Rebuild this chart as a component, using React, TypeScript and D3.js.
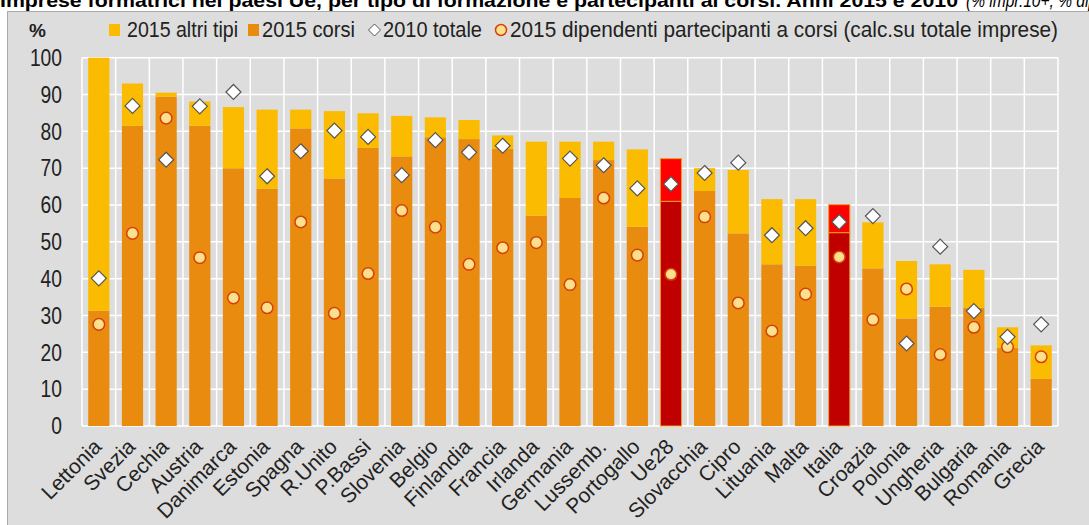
import React from "react";
import * as d3 from "d3";

const countries = ["Lettonia","Svezia","Cechia","Austria","Danimarca","Estonia","Spagna","R.Unito","P.Bassi","Slovenia","Belgio","Finlandia","Francia","Irlanda","Germania","Lussemb.","Portogallo","Ue28","Slovacchia","Cipro","Lituania","Malta","Italia","Croazia","Polonia","Ungheria","Bulgaria","Romania","Grecia"];
const corsi2015 = [31.3,81.5,89.4,81.5,70.0,64.4,80.8,67.2,75.5,73.2,78.4,77.9,75.2,57.1,61.9,72.2,54.1,61.0,63.8,52.3,43.9,43.5,52.5,42.8,29.2,32.4,32.1,21.2,12.8];
const altri2015 = [68.7,11.5,1.1,6.6,16.6,21.5,5.1,18.3,9.4,11.0,5.4,5.2,3.7,20.1,15.3,5.0,21.0,11.6,6.2,17.2,17.7,18.1,7.6,12.5,15.6,11.5,10.3,5.6,9.1];
const totale2010: (number | null)[] = [40.1,86.9,72.3,86.8,90.7,67.8,74.6,80.2,78.5,68.1,77.6,74.3,76.1,null,72.6,70.8,64.5,65.7,68.7,71.5,51.8,53.7,55.4,57.0,22.4,48.7,31.2,24.2,27.6];
const dipendenti2015 = [27.6,52.3,83.6,45.7,34.8,32.1,55.4,30.6,41.4,58.5,54.0,43.9,48.4,49.8,38.4,61.9,46.4,41.2,56.8,33.4,25.8,35.8,45.9,28.9,37.2,19.4,26.8,21.5,18.8];
const yTicks = [0,10,20,30,40,50,60,70,80,90,100];
const highlighted = ["Ue28","Italia"];

const W = 1089, H = 525;
const FONT = "'Liberation Sans', Arial, sans-serif";

export default function App() {
  const x = d3.scaleBand<string>().domain(countries).range([82, 1058]).padding(0);
  const y = d3.scaleLinear().domain([0, 100]).range([426, 57.7]);
  const bw = x.bandwidth();
  const barW = bw * 0.63;
  const stack = d3.stack<number>().keys(["corsi", "altri"]).value((i, k) => (k === "corsi" ? corsi2015[i] : altri2015[i]));
  const series = stack(d3.range(countries.length));

  const colors: Record<string, [string, string]> = {
    corsi: ["#e98b0f", "#c00000"],
    altri: ["#fbbb00", "#ff0000"],
  };

  const diamond = (cx: number, cy: number, r: number) => `M${cx},${cy - r}L${cx + r},${cy}L${cx},${cy + r}L${cx - r},${cy}Z`;

  return (
    <svg width={W} height={H} style={{ position: "absolute", left: 0, top: 0 }} fontFamily={FONT}>
      <rect x={0} y={0} width={W} height={H} fill="#ffffff" />
      <text x={0} y={7} fontSize={18} fontWeight="bold" fill="#000" textLength={958} lengthAdjust="spacingAndGlyphs">Imprese formatrici nei paesi Ue, per tipo di formazione e partecipanti ai corsi. Anni 2015 e 2010</text>
      <text x={966} y={7} fontSize={18} fontStyle="italic" fill="#000" textLength={200} lengthAdjust="spacingAndGlyphs">(% impr.10+, % dip. imprese)</text>
      <rect x={7.5} y={11.5} width={W} height={H} fill="#dddddd" stroke="#aaaaaa" strokeWidth={1} />

      {/* gridlines */}
      {yTicks.map((t) => (
        <line key={"h" + t} x1={82} x2={1058} y1={y(t)} y2={y(t)} stroke="#ffffff" strokeWidth={1.5} />
      ))}
      {d3.range(countries.length + 1).map((i) => {
        const xx = 82 + i * bw;
        return <line key={"v" + i} x1={xx} x2={xx} y1={y(100)} y2={y(0)} stroke="#ffffff" strokeWidth={1.5} />;
      })}

      {/* bars */}
      {series.map((s) =>
        s.map((d, i) => {
          const c = countries[i];
          const hl = highlighted.includes(c);
          const col = colors[s.key][hl ? 1 : 0];
          return (
            <rect key={s.key + c} x={(x(c) as number) + (bw - barW) / 2} y={y(d[1])} width={barW} height={y(d[0]) - y(d[1])}
              fill={col} stroke={hl ? "#f0a020" : "none"} strokeWidth={hl ? 1 : 0} />
          );
        })
      )}

      {/* circles */}
      {dipendenti2015.map((v, i) => (
        <circle key={"c" + i} cx={(x(countries[i]) as number) + bw / 2} cy={y(v)} r={5.8} fill="#fde08c" stroke="#d6400c" strokeWidth={1.5} />
      ))}
      {/* diamonds */}
      {totale2010.map((v, i) => v == null ? null : (
        <path key={"d" + i} d={diamond((x(countries[i]) as number) + bw / 2, y(v), 7.5)} fill="#ffffff" stroke="#555555" strokeWidth={1.2} />
      ))}

      {/* y axis labels */}
      {yTicks.map((t) => (
        <text key={"yt" + t} x={62} y={y(t)} dy="0.36em" textAnchor="end" fontSize={23} fill="#222"
          textLength={String(t).length * 10.7} lengthAdjust="spacingAndGlyphs">{t}</text>
      ))}
      <text x={29} y={37} fontSize={19} fontWeight="bold" fill="#222">%</text>

      {/* x labels */}
      {countries.map((c) => {
        const cx = (x(c) as number) + bw / 2 + 4;
        const cy = 448;
        return (
          <text key={"xl" + c} x={cx} y={cy} textAnchor="end" fontSize={21} fill="#222" transform={`rotate(-45 ${cx} ${cy})`}>{c}</text>
        );
      })}

      {/* legend */}
      <rect x={109} y={24} width={11} height={12} fill="#fbbb00" />
      <text x={127} y={37} fontSize={22} fill="#222" textLength={111} lengthAdjust="spacingAndGlyphs">2015 altri tipi</text>
      <rect x={248} y={24} width={11} height={12} fill="#e98b0f" />
      <text x={262} y={37} fontSize={22} fill="#222" textLength={93} lengthAdjust="spacingAndGlyphs">2015 corsi</text>
      <path d={diamond(374.5, 30, 6)} fill="#ffffff" stroke="#555555" strokeWidth={1} />
      <text x={383} y={37} fontSize={22} fill="#222" textLength={99} lengthAdjust="spacingAndGlyphs">2010 totale</text>
      <circle cx={501} cy={30} r={5.5} fill="#fde08c" stroke="#d6400c" strokeWidth={1.5} />
      <text x={510} y={37} fontSize={22} fill="#222" textLength={548} lengthAdjust="spacingAndGlyphs">2015 dipendenti partecipanti a corsi (calc.su totale imprese)</text>
    </svg>
  );
}
